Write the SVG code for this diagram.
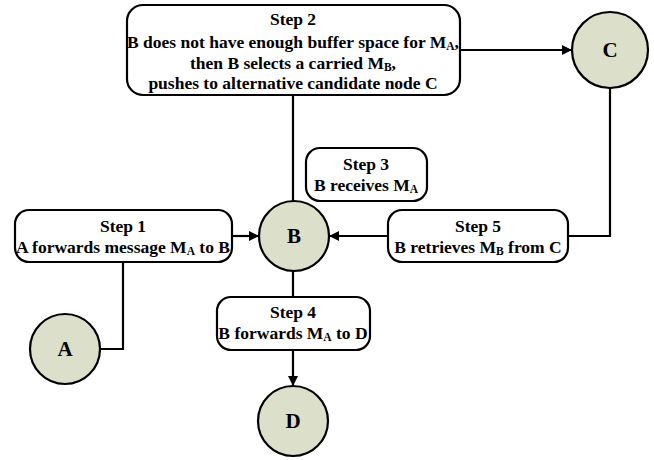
<svg xmlns="http://www.w3.org/2000/svg" width="654" height="460" viewBox="0 0 654 460">
<defs>
<marker id="arr" markerWidth="10" markerHeight="10" refX="9" refY="5" orient="auto" markerUnits="userSpaceOnUse">
<path d="M0,0 L10,5 L0,10 z" fill="#000"/>
</marker>
<style>
.box{fill:#fff;stroke:#000;stroke-width:2.2}
.node{fill:#dcdfc9;stroke:#000;stroke-width:2.2}
.t{font-family:"Liberation Serif","Times New Roman",serif;font-weight:bold;font-size:17.5px;text-anchor:middle;fill:#000}
.n{font-family:"Liberation Serif","Times New Roman",serif;font-weight:bold;font-size:21px;text-anchor:middle;fill:#000}
.sub{font-size:11.5px}
.c{fill:none;stroke:#000;stroke-width:2.2}
</style>
</defs>
<rect width="654" height="460" fill="#fff"/>
<g id="connectors">
<path class="c" d="M460,50 H571" marker-end="url(#arr)"/>
<path class="c" d="M293,95 V201"/>
<path class="c" d="M232,236 H258" marker-end="url(#arr)"/>
<path class="c" d="M610,88 V236 H568"/>
<path class="c" d="M388,236 H330" marker-end="url(#arr)"/>
<path class="c" d="M123,262 V349 H100"/>
<path class="c" d="M293,271 V297"/>
<path class="c" d="M293,350 V385" marker-end="url(#arr)"/>
</g>
<g id="step2">
<rect class="box" x="127" y="5" width="333" height="90" rx="16"/>
<text class="t" x="293" y="25">Step 2</text>
<text class="t" x="293" y="48">B does not have enough buffer space for M<tspan class="sub" dy="2">A</tspan><tspan dy="-2">,</tspan></text>
<text class="t" x="293" y="69">then B selects a carried M<tspan class="sub" dy="2">B</tspan><tspan dy="-2">,</tspan></text>
<text class="t" x="293" y="89">pushes to alternative candidate node C</text>
</g>
<g id="step3">
<rect class="box" x="306" y="148" width="121" height="53" rx="14"/>
<text class="t" x="366" y="170">Step 3</text>
<text class="t" x="366" y="191">B receives M<tspan class="sub" dy="2">A</tspan></text>
</g>
<g id="step1">
<rect class="box" x="15" y="210" width="217" height="52" rx="14"/>
<text class="t" x="123" y="232">Step 1</text>
<text class="t" x="123" y="253">A forwards message M<tspan class="sub" dy="2">A</tspan><tspan dy="-2"> to B</tspan></text>
</g>
<g id="step5">
<rect class="box" x="388" y="210" width="180" height="52" rx="14"/>
<text class="t" x="478" y="232">Step 5</text>
<text class="t" x="478" y="253">B retrieves M<tspan class="sub" dy="2">B</tspan><tspan dy="-2"> from C</tspan></text>
</g>
<g id="step4">
<rect class="box" x="217" y="297" width="153" height="53" rx="14"/>
<text class="t" x="293" y="318">Step 4</text>
<text class="t" x="293" y="339">B forwards M<tspan class="sub" dy="2">A</tspan><tspan dy="-2"> to D</tspan></text>
</g>
<g id="nodeC">
<circle class="node" cx="610" cy="50" r="38"/>
<text class="n" x="610" y="57">C</text>
</g>
<g id="nodeB">
<circle class="node" cx="294" cy="236" r="35"/>
<text class="n" x="294" y="243">B</text>
</g>
<g id="nodeA">
<circle class="node" cx="65" cy="349" r="35"/>
<text class="n" x="65" y="356">A</text>
</g>
<g id="nodeD">
<circle class="node" cx="293" cy="421" r="35"/>
<text class="n" x="293" y="428">D</text>
</g>
</svg>
